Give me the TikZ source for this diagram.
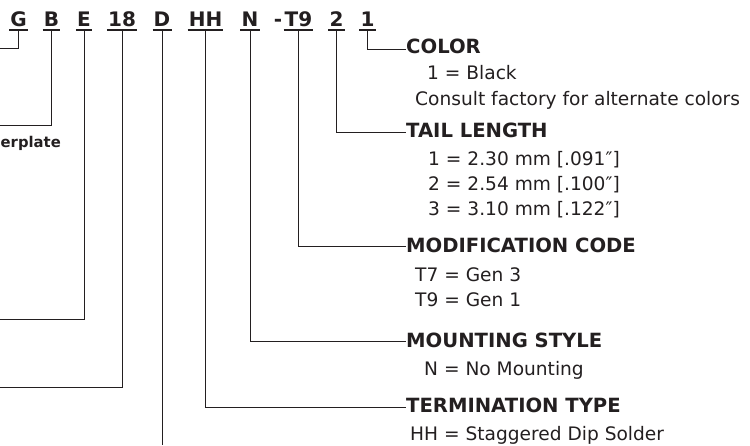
\documentclass[tikz,border=0pt]{standalone}
\usepackage{fontspec}
\setmainfont{DejaVu Sans}
\definecolor{ink}{RGB}{35,31,32}
\begin{document}
\begin{tikzpicture}[x=1pt,y=-1pt,
  code/.style={font=\fontsize{20}{24}\selectfont\bfseries, text=ink, inner xsep=1pt, inner ysep=0pt, text depth=0pt, anchor=base},
  head/.style={font=\fontsize{19.6}{24}\selectfont\bfseries, text=ink, inner sep=0pt, anchor=base west},
  body/.style={font=\fontsize{18.6}{22}\selectfont, text=ink, inner sep=0pt, anchor=base west},
  lead/.style={draw=ink, line width=1pt},
  uline/.style={draw=ink, line width=1.2pt},
]
\useasboundingbox (0,0) rectangle (750,446);

% part number codes
\node[code] (cG)  at (18.5,26.5) {G};
\node[code] (cB)  at (51.5,26.5) {B};
\node[code] (cE)  at (84,26.5) {E};
\node[code] (c18) at (122,26.5) {18};
\node[code] (cD)  at (162,26.5) {D};
\node[code] (cHH) at (205.5,26.5) {HH};
\node[code] (cN)  at (250,26.5) {N};
\node[code] (cT)  at (298.5,26.5) {\llap{-\kern2.5pt}T9};
\node[code] (c2)  at (336.5,26.5) {2};
\node[code] (c1)  at (367.5,26.5) {1};

\foreach \n in {cG,cB,cE,c18,cD,cHH,cN,cT,c2,c1}
  \draw[uline] ([yshift=-3.5pt]\n.base west) -- ([yshift=-3.5pt]\n.base east);

% free ends at the left edge / bottom
\coordinate (eG)  at (0,49);
\coordinate (eB)  at (0,126);
\coordinate (eE)  at (0,320);
\coordinate (e18) at (0,388);
\coordinate (eD)  at (162,445);

% left-side partial label
\node[font=\fontsize{14.8}{18}\selectfont\bfseries, text=ink, inner sep=0pt, anchor=base east] (lCounter) at (61,148) {erplate};

% right-side headings and values
\node[head] (hColor) at (406,54) {COLOR};
\node[body] (vColor1) at (427,80) {1 = Black};
\node[body] (vColor2) at (415,106) {Consult factory for alternate colors};

\node[head] (hTail) at (406,138) {TAIL LENGTH};
\node[body] (vTail1) at (428,166) {1 = 2.30 mm [.091″]};
\node[body] (vTail2) at (428,191) {2 = 2.54 mm [.100″]};
\node[body] (vTail3) at (428,216) {3 = 3.10 mm [.122″]};

\node[head] (hMod) at (406,253) {MODIFICATION CODE};
\node[body] (vMod1) at (415,282) {T7 = Gen 3};
\node[body] (vMod2) at (415,307) {T9 = Gen 1};

\node[head] (hMount) at (406,348) {MOUNTING STYLE};
\node[body] (vMount1) at (424,376) {N = No Mounting};

\node[head] (hTerm) at (406,413) {TERMINATION TYPE};
\node[body] (vTerm1) at (410,440) {HH = Staggered Dip Solder};

% leaders
\draw[lead] ([yshift=-3.5pt]cG.base)  |- (eG);
\draw[lead] ([yshift=-3.5pt]cB.base)  |- (eB);
\draw[lead] ([yshift=-3.5pt]cE.base)  |- (eE);
\draw[lead] ([yshift=-3.5pt]c18.base) |- (e18);
\draw[lead] ([yshift=-3.5pt]cD.base)  -- (eD);
\draw[lead] ([yshift=-3.5pt]cHH.base) |- ([yshift=6pt]hTerm.base west);
\draw[lead] ([yshift=-3.5pt]cN.base)  |- ([yshift=6pt]hMount.base west);
\draw[lead] ([yshift=-3.5pt]cT.base)  |- ([yshift=6pt]hMod.base west);
\draw[lead] ([yshift=-3.5pt]c2.base)  |- ([yshift=5pt]hTail.base west);
\draw[lead] ([yshift=-3.5pt]c1.base)  |- ([yshift=4pt]hColor.base west);
\end{tikzpicture}
\end{document}
